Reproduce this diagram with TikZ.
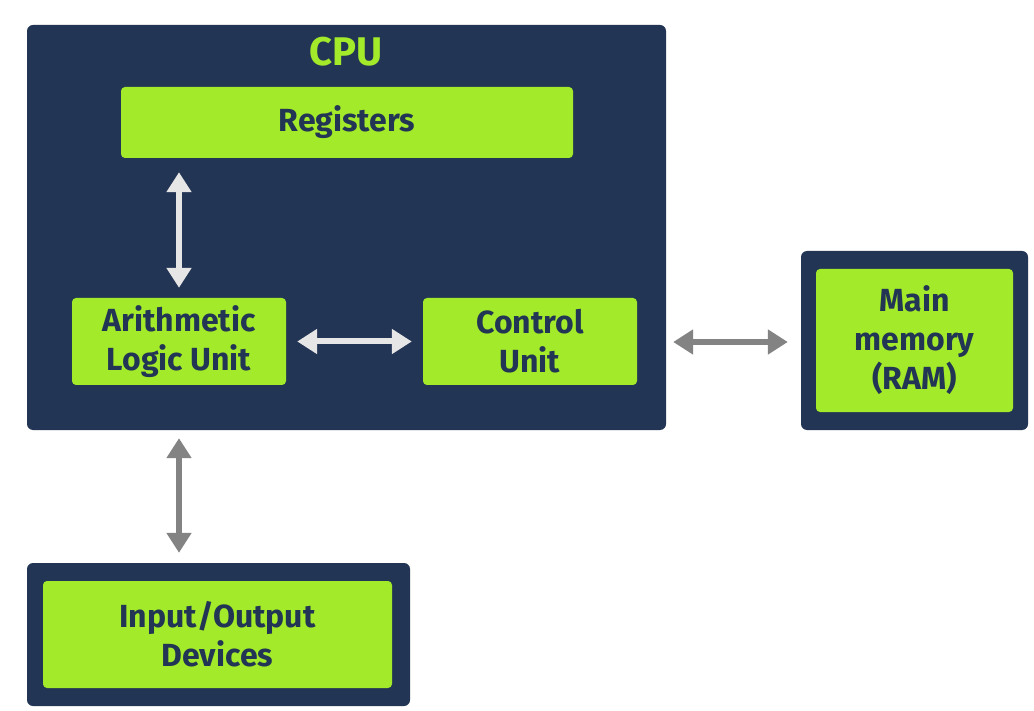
\documentclass[tikz,border=0pt]{standalone}
\usepackage{fontspec}
\setmainfont{Fira Sans}
\usetikzlibrary{arrows.meta,calc}
\definecolor{navy}{HTML}{233554}
\definecolor{lime}{HTML}{A2EA2A}
\definecolor{lightarrow}{HTML}{E6E6E6}
\definecolor{grayarrow}{HTML}{838383}
\tikzset{
  outerbox/.style={fill=navy, rounded corners=6pt, inner sep=0pt},
  greenbox/.style={fill=lime, rounded corners=4pt, inner sep=0pt, align=center,
    text=navy, font=\fontsize{32}{39}\selectfont\bfseries},
  dbl/.style={line width=6pt, {Triangle[width=24pt,length=20pt]}-{Triangle[width=24pt,length=20pt]}},
  inarrow/.style={dbl, draw=lightarrow},
  outarrow/.style={dbl, draw=grayarrow},
}
\begin{document}
\begin{tikzpicture}[x=1pt,y=-1pt]
\useasboundingbox (0,0) rectangle (1034,711);
\fill[white] (0,0) rectangle (1034,711);
% outer boxes
\node[outerbox, minimum width=639pt, minimum height=405pt] (cpu) at (346.5,227.5) {};
\node[outerbox, minimum width=227pt, minimum height=179pt] (ramo) at (914.5,340.5) {};
\node[outerbox, minimum width=383pt, minimum height=143pt] (ioo) at (218.5,634.5) {};
% title
\node[text=lime, font=\fontsize{40}{44}\selectfont\bfseries] (cputitle) at (346.5,52) {CPU};
% green boxes
\node[greenbox, minimum width=452pt, minimum height=71pt] (reg) at (347,122.5) {Registers};
\node[greenbox, minimum width=214pt, minimum height=87pt] (alu) at (179,341.5) {Arithmetic\\Logic Unit};
\node[greenbox, minimum width=214pt, minimum height=87pt] (cu) at (530,341.5) {Control\\Unit};
\node[greenbox, minimum width=197pt, minimum height=143pt] (ram) at (914.5,340.5) {Main\\memory\\(RAM)};
\node[greenbox, minimum width=349pt, minimum height=107pt] (io) at (217.5,634.5) {Input/Output\\Devices};
% arrows inside CPU
\draw[inarrow, shorten <=14pt, shorten >=10pt] (alu.north |- reg.south) -- (alu.north);
\draw[inarrow, shorten <=11pt, shorten >=11pt] (alu.east) -- (cu.west);
% arrows outside CPU
\draw[outarrow, shorten <=7pt, shorten >=13pt] ($(cpu.east |- cu.east)+(0,0.5)$) -- ($(ramo.west |- cu.east)+(0,0.5)$);
\draw[outarrow, shorten <=8pt, shorten >=10pt] (alu.north |- cpu.south) -- (alu.north |- ioo.north);
\end{tikzpicture}
\end{document}
